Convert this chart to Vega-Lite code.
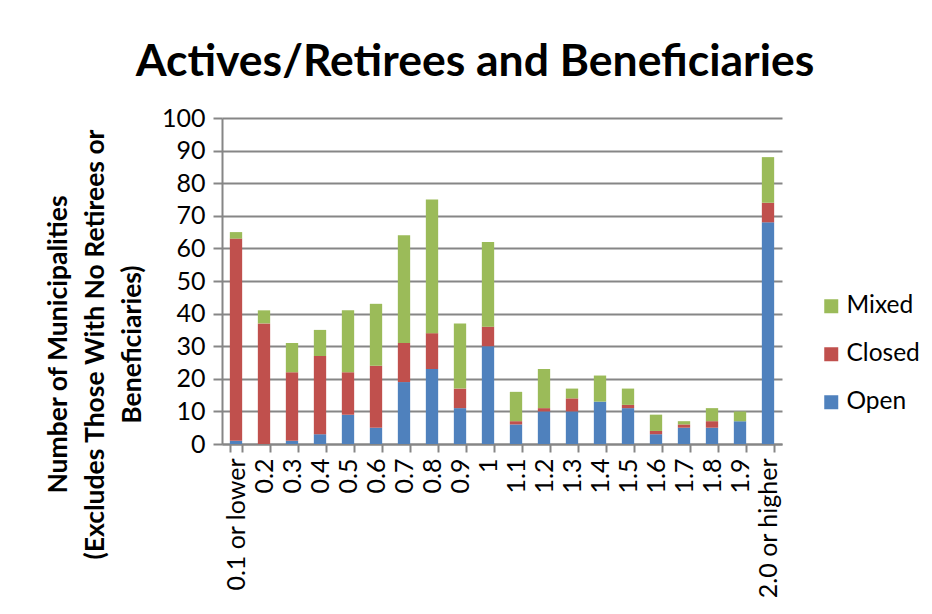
{
  "$schema": "https://vega.github.io/schema/vega-lite/v6.json",
  "autosize": "none",
  "width": 560,
  "height": 326,
  "padding": {"left": 222, "top": 118, "right": 150, "bottom": 170},
  "background": "white",
  "title": {
    "text": "Actives/Retirees and Beneficiaries",
    "font": "Lato",
    "fontSize": 44.5,
    "fontWeight": "bold",
    "color": "black",
    "anchor": "middle",
    "dx": -27,
    "offset": 21
  },
  "data": {
    "values": [
      {"ratio": "0.1 or lower", "Open": 1, "Closed": 62, "Mixed": 2},
      {"ratio": "0.2", "Open": 0, "Closed": 37, "Mixed": 4},
      {"ratio": "0.3", "Open": 1, "Closed": 21, "Mixed": 9},
      {"ratio": "0.4", "Open": 3, "Closed": 24, "Mixed": 8},
      {"ratio": "0.5", "Open": 9, "Closed": 13, "Mixed": 19},
      {"ratio": "0.6", "Open": 5, "Closed": 19, "Mixed": 19},
      {"ratio": "0.7", "Open": 19, "Closed": 12, "Mixed": 33},
      {"ratio": "0.8", "Open": 23, "Closed": 11, "Mixed": 41},
      {"ratio": "0.9", "Open": 11, "Closed": 6, "Mixed": 20},
      {"ratio": "1", "Open": 30, "Closed": 6, "Mixed": 26},
      {"ratio": "1.1", "Open": 6, "Closed": 1, "Mixed": 9},
      {"ratio": "1.2", "Open": 10, "Closed": 1, "Mixed": 12},
      {"ratio": "1.3", "Open": 10, "Closed": 4, "Mixed": 3},
      {"ratio": "1.4", "Open": 13, "Closed": 0, "Mixed": 8},
      {"ratio": "1.5", "Open": 11, "Closed": 1, "Mixed": 5},
      {"ratio": "1.6", "Open": 3, "Closed": 1, "Mixed": 5},
      {"ratio": "1.7", "Open": 5, "Closed": 1, "Mixed": 1},
      {"ratio": "1.8", "Open": 5, "Closed": 2, "Mixed": 4},
      {"ratio": "1.9", "Open": 7, "Closed": 0, "Mixed": 3},
      {"ratio": "2.0 or higher", "Open": 68, "Closed": 6, "Mixed": 14}
    ]
  },
  "transform": [
    {"fold": ["Open", "Closed", "Mixed"], "as": ["type", "count"]},
    {"calculate": "indexof(['Open','Closed','Mixed'], datum.type)", "as": "stackOrder"}
  ],
  "mark": {"type": "bar"},
  "encoding": {
    "x": {
      "field": "ratio",
      "type": "nominal",
      "sort": null,
      "scale": {"paddingInner": 0.56, "paddingOuter": 0.28},
      "axis": {
        "title": null,
        "labelAngle": -90,
        "labelAlign": "right",
        "labelBaseline": "middle",
        "labelFont": "Lato",
        "labelFontSize": 25,
        "labelColor": "black",
        "labelPadding": 6,
        "tickBand": "extent",
        "tickSize": 8,
        "tickWidth": 2,
        "tickColor": "#868686",
        "domainColor": "#868686",
        "domainWidth": 2,
        "grid": false
      }
    },
    "y": {
      "field": "count",
      "type": "quantitative",
      "stack": "zero",
      "scale": {"domain": [0, 100], "nice": false},
      "axis": {
        "values": [0, 10, 20, 30, 40, 50, 60, 70, 80, 90, 100],
        "title": ["Number of Municipalities", "(Excludes Those With No Retirees or", "Beneficiaries)"],
        "titleFont": "Lato",
        "titleFontSize": 26.5,
        "titleFontWeight": "bold",
        "titleColor": "black",
        "titleLineHeight": 37,
        "titleAngle": -90,
        "titleAlign": "center",
        "titleBaseline": "middle",
        "titleX": -164,
        "titleY": 226,
        "labelFont": "Lato",
        "labelFontSize": 25,
        "labelColor": "black",
        "labelPadding": 8,
        "tickSize": 9,
        "tickWidth": 2,
        "tickColor": "#868686",
        "domainColor": "#868686",
        "domainWidth": 2,
        "grid": true,
        "gridColor": "#868686",
        "gridWidth": 2
      }
    },
    "color": {
      "field": "type",
      "type": "nominal",
      "scale": {"domain": ["Mixed", "Closed", "Open"], "range": ["#9BBB59", "#C0504D", "#4F81BD"]},
      "legend": {
        "title": null,
        "orient": "none",
        "legendX": 597,
        "legendY": 176,
        "symbolType": "square",
        "symbolSize": 196,
        "symbolStrokeWidth": 0,
        "labelFont": "Lato",
        "labelFontSize": 24.5,
        "labelColor": "black",
        "labelOffset": 3,
        "rowPadding": 23
      }
    },
    "order": {"field": "stackOrder", "type": "quantitative"}
  },
  "config": {
    "view": {"stroke": null}
  }
}
